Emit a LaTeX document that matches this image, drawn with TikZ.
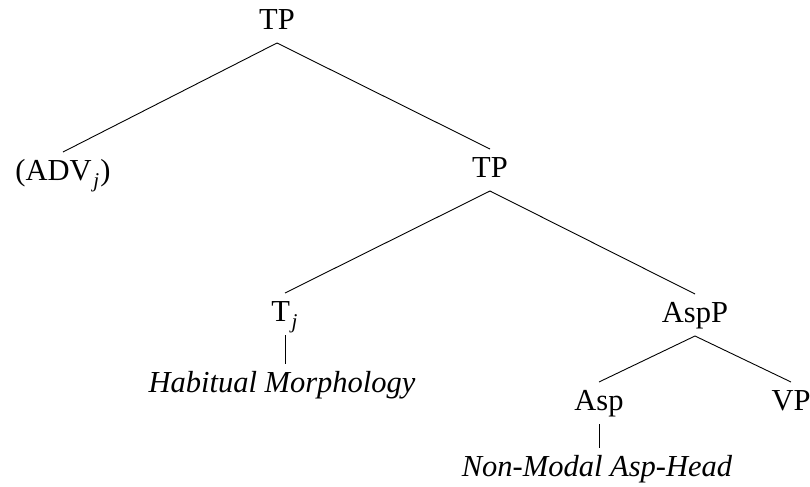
\documentclass[tikz,border=0pt]{standalone}
\usepackage{fontspec}
\setmainfont{Liberation Serif}
\newcommand{\subj}{\kern0.8pt\raisebox{-3.5pt}{\fontsize{10.5}{11}\selectfont\itshape j}\kern0.6pt}
\begin{document}
\begin{tikzpicture}[x=0.5pt,y=-0.5pt,
  lbl/.style={anchor=base,inner sep=0pt,outer xsep=0pt,outer ysep=3.5pt,
    text height=10.5pt,text depth=3.5pt,font=\fontsize{15.25}{18}\selectfont},
  edge/.style={draw=black,line width=0.45pt}]
\useasboundingbox (0,0) rectangle (810,487);
\node[lbl] (tp1) at (277,29) {TP};
\node[lbl] (adv) at (63,180) {(ADV\subj)};
\node[lbl] (tp2) at (490,177) {TP};
\node[lbl] (t) at (285,321) {T\subj};
\node[lbl] (hab) at (282,392) {\itshape Habitual Morphology};
\node[lbl] (aspp) at (695,322) {AspP};
\node[lbl] (asp) at (599,410) {Asp};
\node[lbl] (vp) at (791,410) {VP};
\node[lbl] (nm) at (597,476) {\itshape Non-Modal Asp-Head};
\draw[edge] (tp1.south) -- (adv.north);
\draw[edge] (tp1.south) -- (tp2.north);
\draw[edge] (tp2.south) -- (t.north);
\draw[edge] (tp2.south) -- (aspp.north);
\draw[edge] (t.south) -- (t.south |- hab.north);
\draw[edge] (aspp.south) -- (asp.north);
\draw[edge] (aspp.south) -- (vp.north);
\draw[edge] (asp.south) -- (asp.south |- nm.north);
\end{tikzpicture}
\end{document}
